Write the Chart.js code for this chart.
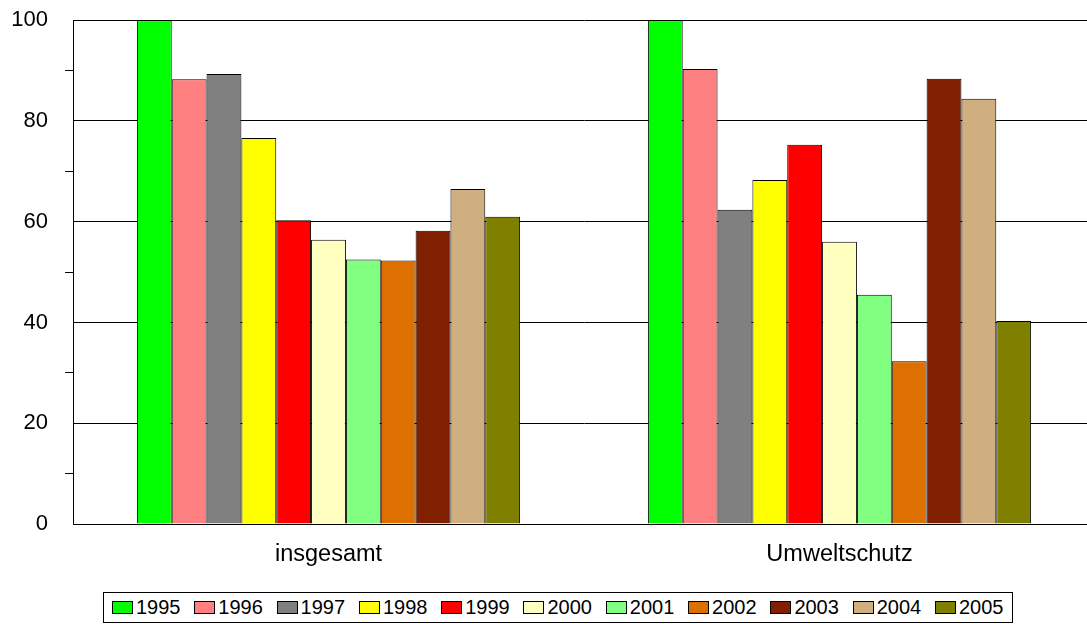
<!DOCTYPE html>
<html>
<head>
<meta charset="utf-8">
<script src="https://cdn.jsdelivr.net/npm/chart.js@4/dist/chart.umd.min.js"></script>
<style>
  html, body { margin: 0; padding: 0; background: #fff; overflow: hidden; width: 1087px; height: 624px; }
  #wrap { position: absolute; left: 0; top: -10px; width: 1100px; height: 595px; }
  #legende {
    position: absolute; left: 103px; top: 592px; width: 910px; height: 31px;
    border: 1px solid #000; box-sizing: border-box; padding-left: 8px;
    display: flex; align-items: center;
    font-family: "Liberation Sans", Arial, sans-serif; font-size: 20px; color: #000;
  }
  .item { width: 82.3px; flex: none; display: flex; align-items: center; }
  .box { width: 21px; height: 13px; border: 1px solid #000; box-sizing: border-box; margin-right: 3px; }
</style>
</head>
<body>
<div id="wrap"><canvas id="balken"></canvas></div>
<div id="legende"></div>
<script>
// Kategorien und Jahre
const kategorien = ['insgesamt', 'Umweltschutz'];
const jahre = ['1995', '1996', '1997', '1998', '1999', '2000', '2001', '2002', '2003', '2004', '2005'];

// Werte je Jahr (Index 1995 = 100)
const insgesamt = [100, 88.3, 89.3, 76.6, 60.3, 56.4, 52.5, 52.3, 58.2, 66.5, 61.0];
const umweltschutz = [100, 90.3, 62.4, 68.3, 75.3, 56.0, 45.5, 32.3, 88.4, 84.4, 40.3];

const farben = ['#00FF00', '#FF8080', '#808080', '#FFFF00', '#FF0000', '#FFFFC0',
                '#80FF80', '#DD7000', '#802000', '#CFAF80', '#808000'];

const schrift = '"Liberation Sans", Arial, sans-serif';

const datasets = jahre.map((j, i) => ({
  label: j,
  data: [insgesamt[i], umweltschutz[i]],
  backgroundColor: farben[i],
  borderColor: '#000',
  borderWidth: 1,
  borderSkipped: 'bottom'
}));

const ctx = document.getElementById('balken');

new Chart(ctx, {
  type: 'bar',
  data: { labels: kategorien, datasets: datasets },
  options: {
    responsive: true,
    maintainAspectRatio: false,
    animation: false,
    layout: { padding: { top: 20, left: 0, right: 5, bottom: 0 } },
    datasets: { bar: { categoryPercentage: 0.75, barPercentage: 1.0 } },
    plugins: { legend: { display: false }, tooltip: { enabled: false } },
    scales: {
      x: {
        grid: { display: false },
        border: { display: true, color: '#000', width: 1 },
        ticks: { color: '#000', padding: 8, font: { family: schrift, size: 23.5 } },
        afterFit: s => { s.height = 61; }
      },
      y: {
        min: 0,
        max: 100,
        ticks: {
          stepSize: 10,
          color: '#000',
          padding: 17,
          font: { family: schrift, size: 22 },
          callback: v => (v % 20 === 0 ? v : '')
        },
        grid: {
          color: c => (c.tick && c.tick.value % 20 === 0 ? '#000' : 'rgba(0,0,0,0)'),
          tickColor: c => (c.tick && c.tick.value % 20 === 0 ? 'rgba(0,0,0,0)' : '#000'),
          tickLength: 8,
          lineWidth: 1
        },
        border: { display: true, color: '#000', width: 1 },
        afterFit: s => { s.width = 73; }
      }
    }
  }
});

// Legende
const leg = document.getElementById('legende');
jahre.forEach((j, i) => {
  const it = document.createElement('div');
  it.className = 'item';
  it.innerHTML = '<span class="box" style="background:' + farben[i] + '"></span><span>' + j + '</span>';
  leg.appendChild(it);
});
</script>
</body>
</html>
